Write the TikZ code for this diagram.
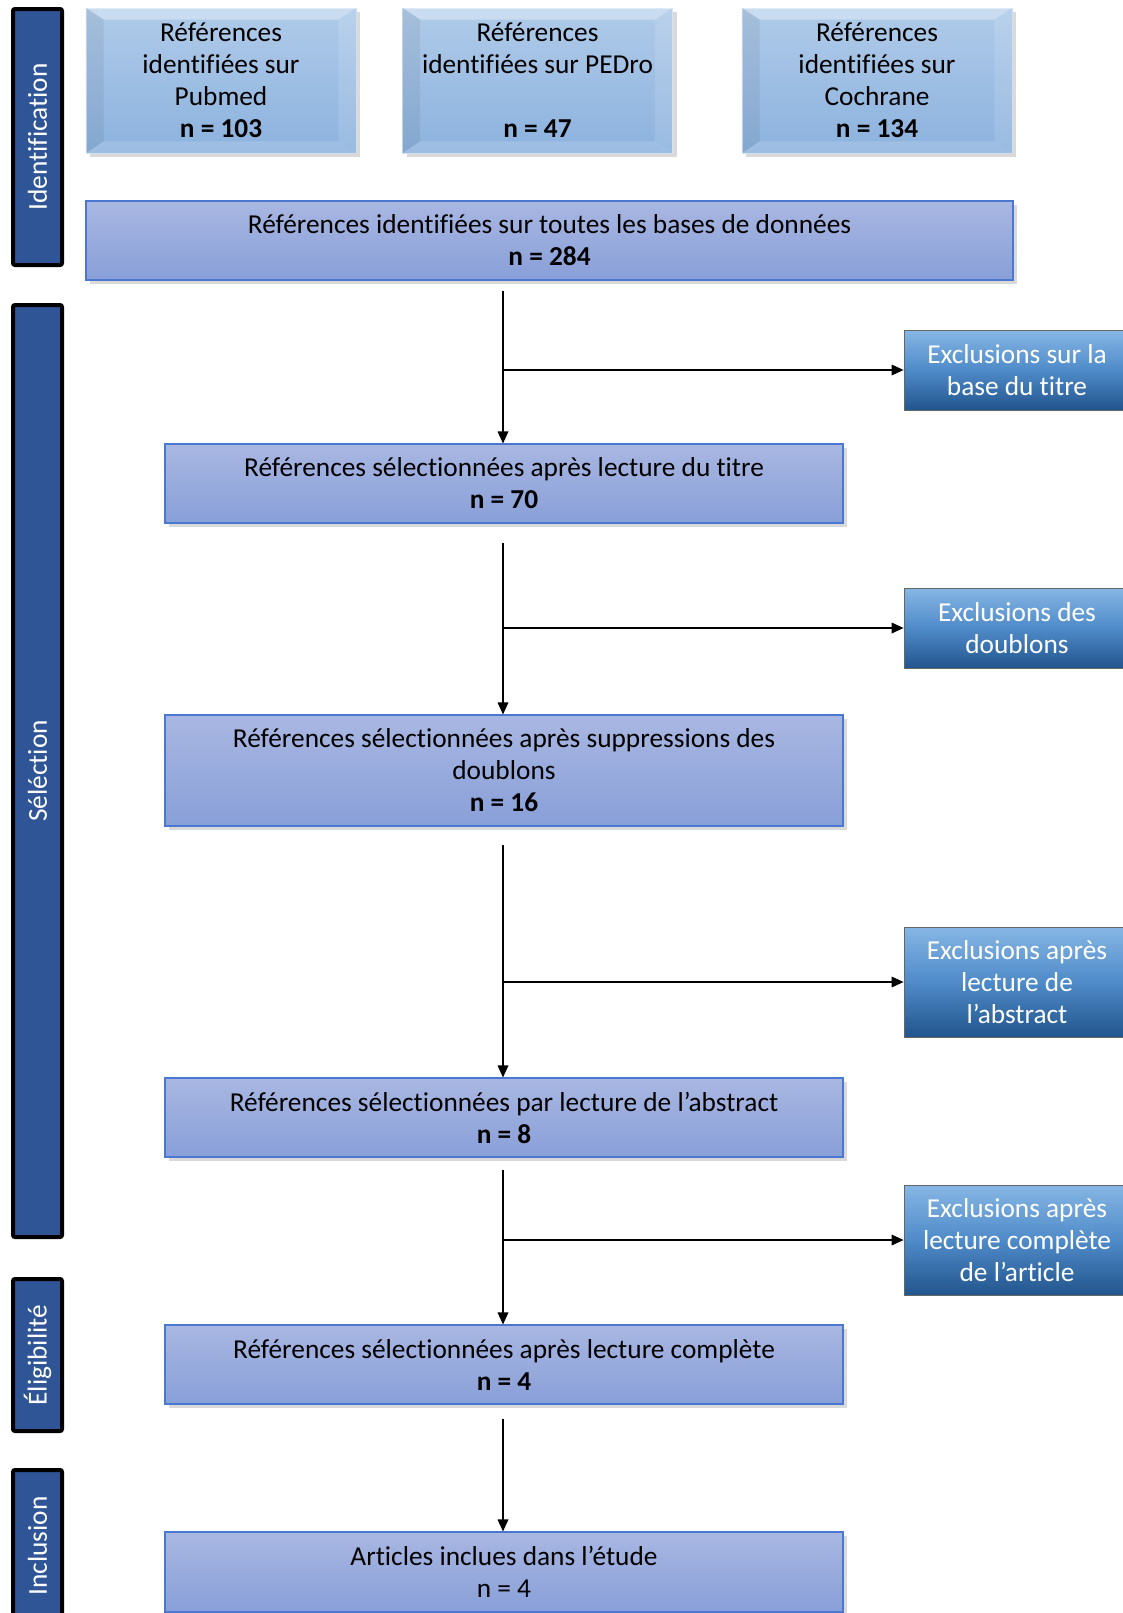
\documentclass[tikz,border=0pt]{standalone}
\usepackage{fontspec}
\setmainfont{Carlito}[Ligatures=NoCommon]
\usepackage{tikz}
\usetikzlibrary{arrows.meta}
\usetikzlibrary{shadows}
\usetikzlibrary{calc}

\definecolor{phasefill}{HTML}{2F5597}
\definecolor{srctop}{HTML}{B0CBE9}
\definecolor{srcbot}{HTML}{8CB2DE}
\definecolor{stagetop}{HTML}{A9B7E2}
\definecolor{stagebot}{HTML}{889FD8}
\definecolor{stageline}{HTML}{4A78D0}
\definecolor{excltop}{HTML}{86B6E4}
\definecolor{exclmid}{HTML}{4F8BC9}
\definecolor{exclbot}{HTML}{22558D}

\tikzset{
  txt/.style={font=\fontsize{20.5}{24}\selectfont, align=center, inner sep=0pt},
  phase/.style={txt, rotate=90, fill=phasefill, draw=black, line width=3pt,
    rounded corners=1.5pt, text=white, minimum height=36.75pt},
  source/.style={txt, top color=srctop, bottom color=srcbot, draw=srctop!60,
    line width=0.6pt, minimum width=202.5pt, minimum height=108.75pt,
    drop shadow={shadow xshift=3pt, shadow yshift=-3pt, opacity=0.3}},
  stage/.style={txt, top color=stagetop, bottom color=stagebot, draw=stageline,
    line width=0.8pt, minimum width=508.5pt, minimum height=59.25pt,
    drop shadow={shadow xshift=3pt, shadow yshift=-3pt, opacity=0.3}},
  excl/.style={txt, top color=excltop, bottom color=exclbot, middle color=exclmid,
    draw=gray!80!black, line width=0.6pt, text=white, minimum width=169.5pt,
    minimum height=60pt},
  flow/.style={->, >={Triangle[length=9pt, width=8pt]}, line width=0.9pt}
}

\begin{document}
\begin{tikzpicture}[x=0.75pt, y=-0.75pt]
  \useasboundingbox (0,0) rectangle (1123,1613);

  % phases
  \node[phase, minimum width=192pt] (idbar) at (37.5,137) {Identification};
  \node[phase, minimum width=699pt] (selbar) at (37.5,771) {Séléction};
  \node[phase, minimum width=114pt] (eligbar) at (37.5,1355) {Éligibilité};
  \node[phase, minimum width=114pt] (inclbar) at (37.5,1546) {Inclusion};

  % sources
  \node[source] (pubmed) at (221,80.5) {Références\\identifiées sur\\Pubmed\\\textbf{n = 103}};
  \node[source] (pedro) at (537.5,80.5) {Références\\identifiées sur PEDro\\\strut\\\textbf{n = 47}};
  \node[source] (cochrane) at (877,80.5) {Références\\identifiées sur\\Cochrane\\\textbf{n = 134}};
  \foreach \n in {pubmed,pedro,cochrane} {
    \fill[white, opacity=0.35] (\n.north west) -- (\n.north east)
      -- ($(\n.north east)+(-18,12)$) -- ($(\n.north west)+(18,12)$) -- cycle;
    \fill[black, opacity=0.06] (\n.north west) -- ($(\n.north west)+(18,12)$)
      -- ($(\n.south west)+(18,-12)$) -- (\n.south west) -- cycle;
    \fill[white, opacity=0.12] (\n.north east) -- ($(\n.north east)+(-18,12)$)
      -- ($(\n.south east)+(-18,-12)$) -- (\n.south east) -- cycle;
    \fill[white, opacity=0.15] (\n.south west) -- ($(\n.south west)+(18,-12)$)
      -- ($(\n.south east)+(-18,-12)$) -- (\n.south east) -- cycle;
  }

  % main flow
  \node[stage, minimum width=695.25pt] (total) at (549.5,240.5)
    {Références identifiées sur toutes les bases de données\\\textbf{n = 284}};
  \node[stage] (b70) at (504,483.5) {Références sélectionnées après lecture du titre\\\textbf{n = 70}};
  \node[stage, minimum height=83.25pt] (b16) at (504,770.5)
    {Références sélectionnées après suppressions des\\doublons\\\textbf{n = 16}};
  \node[stage] (b8) at (504,1117.5) {Références sélectionnées par lecture de l’abstract\\\textbf{n = 8}};
  \node[stage] (b4) at (504,1364.5) {Références sélectionnées après lecture complète\\\textbf{n = 4}};
  \node[stage, minimum height=60pt] (final) at (504,1572) {Articles inclues dans l’étude\\n = 4};

  % exclusions
  \node[excl] (ex1) at (1017,370) {Exclusions sur la\\base du titre};
  \node[excl] (ex2) at (1017,628) {Exclusions des\\doublons};
  \node[excl, minimum height=82.5pt] (ex3) at (1017,982) {Exclusions après\\lecture de\\l’abstract};
  \node[excl, minimum height=82.5pt] (ex4) at (1017,1240) {Exclusions après\\lecture complète\\de l’article};

  % connectors
  \coordinate (s1) at (503,291);
  \coordinate (s2) at (503,543);
  \coordinate (s3) at (503,845);
  \coordinate (s4) at (503,1170);
  \coordinate (s5) at (503,1419);
  \foreach \from/\to in {s1/b70, s2/b16, s3/b8, s4/b4, s5/final}
    \draw[flow] (\from) -- (\from |- \to.north);
  \foreach \from/\to in {s1/ex1, s2/ex2, s3/ex3, s4/ex4}
    \draw[flow] (\from |- \to.west) -- (\to.west);
\end{tikzpicture}
\end{document}
